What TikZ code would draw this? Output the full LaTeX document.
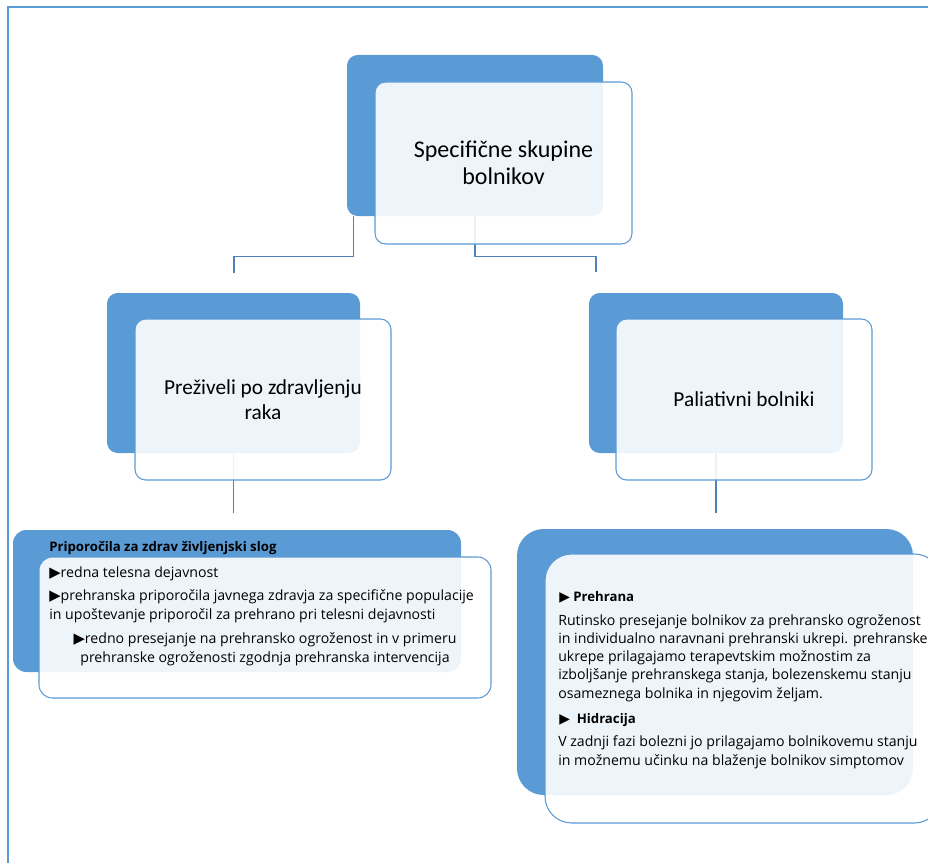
\documentclass[tikz,border=0pt]{standalone}
\usepackage{fontspec}
\setmainfont{Carlito}
\newfontfamily\bodyfont{Open Sans}
\newfontfamily\symfont{DejaVu Sans}
\definecolor{accent}{HTML}{5B9BD5}
\definecolor{linkcol}{HTML}{4F81BD}
\newcommand{\arrowbul}{{\symfont\scalebox{1.05}{▶}}}
\begin{document}
\begin{tikzpicture}[x=0.75pt, y=-0.75pt,
    back/.style={rectangle, rounded corners=8pt, fill=accent},
    front/.style={rectangle, rounded corners=8pt, draw=accent, line width=0.8pt,
      fill=white, fill opacity=0.9, text opacity=1, align=center},
    link/.style={draw=linkcol, line width=0.9pt},
    note/.style={font=\bodyfont\fontsize{10.6}{13.6}\selectfont, align=left,
      inner sep=0, anchor=base west},
    head/.style={note, font=\bodyfont\bfseries\fontsize{9.9}{13.5}\selectfont}]
    \useasboundingbox (0,0) rectangle (928,863);
    \clip (0,0) rectangle (928,863);
    \draw[accent, line width=0.8pt] (8,870) -- (8,7) -- (940,7);

    % back boxes
    \node[back, minimum width=192pt, minimum height=120.75pt] (S0b) at (475,135.5) {};
    \node[back, minimum width=189.75pt, minimum height=120pt] (S1b) at (233.5,373) {};
    \node[back, minimum width=190.5pt, minimum height=120pt] (S2b) at (716,373) {};
    \node[back, rounded corners=10pt, minimum width=336pt, minimum height=106.5pt] (S3b) at (237,601) {};
    \node[back, rounded corners=20pt, minimum width=297pt, minimum height=199.5pt] (S4b) at (715,662) {};

    % connectors
    \coordinate (J1) at (234,273);
    \coordinate (J2) at (596,272);
    \coordinate (J3) at (233.5,513);
    \coordinate (J4) at (716,513);
    \draw[link] (S0b.south west) ++(7,0) -- ++(0,40) -| (J1);
    \draw[link] (S0b.south) -- ++(0,40) -| (J2);
    \draw[link] (S1b.south) -- (J3);
    \draw[link] (S2b.south) -- (J4);

    % front boxes
    \node[front, minimum width=192.75pt, minimum height=121.5pt,
      font=\fontsize{18}{20.25}\selectfont] (S0) at (503.5,163) {Specifične skupine\\bolnikov};
    \node[front, minimum width=192pt, minimum height=120.75pt,
      font=\fontsize{16}{19}\selectfont] (S1) at (263,399.5) {Preživeli po zdravljenju\\raka};
    \node[front, minimum width=192pt, minimum height=120.75pt,
      font=\fontsize{16}{19}\selectfont] (S2) at (744,399.5) {Paliativni bolniki};
    \node[front, rounded corners=10pt, minimum width=339pt, minimum height=105.75pt] (S3) at (265,627.5) {};
    \node[front, rounded corners=20pt, minimum width=297pt, minimum height=201.75pt] (S4) at (743,688.5) {};

    % texts (base = last line)
    \node[head] (T1) at (49,551) {Priporočila za zdrav življenjski slog};
    \node[note] (T2) at (49,577) {\arrowbul redna telesna dejavnost};
    \node[note] (T3) at (49,619) {\arrowbul prehranska priporočila javnega zdravja za specifične populacije\\
      in upoštevanje priporočil za prehrano pri telesni dejavnosti};
    \node[note, align=center, anchor=base] (T4) at (265,662) {\arrowbul redno presejanje na prehransko ogroženost in v primeru\\
      prehranske ogroženosti zgodnja prehranska intervencija};

    \node[head] (U1) at (559,601) {\arrowbul\ Prehrana};
    \node[note] (U2) at (558,698) {Rutinsko presejanje bolnikov za prehransko ogroženost\\
      in individualno naravnani prehranski ukrepi. prehranske\\
      ukrepe prilagajamo terapevtskim možnostim za\\
      izboljšanje prehranskega stanja, bolezenskemu stanju\\
      osameznega bolnika in njegovim željam.};
    \node[head] (U3) at (559,723) {\arrowbul\ \ Hidracija};
    \node[note] (U4) at (558,765) {V zadnji fazi bolezni jo prilagajamo bolnikovemu stanju\\
      in možnemu učinku na blaženje bolnikov simptomov};
\end{tikzpicture}
\end{document}
